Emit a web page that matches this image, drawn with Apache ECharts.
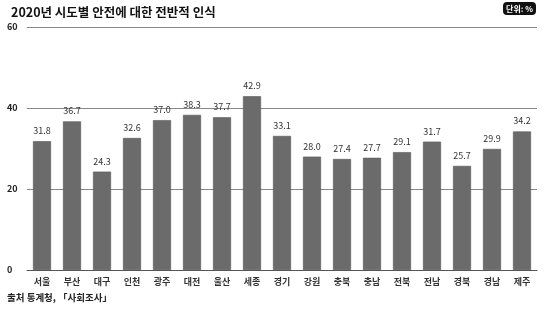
<!DOCTYPE html>
<html><head><meta charset="utf-8">
<script src="https://cdn.jsdelivr.net/npm/echarts@6/dist/echarts.min.js"></script>
<style>html,body{margin:0;padding:0;background:#fff}#c{width:550px;height:311px}</style>
</head><body><div id="c"></div>
<script>
const categories = ['서울','부산','대구','인천','광주','대전','울산','세종','경기','강원','충북','충남','전북','전남','경북','경남','제주'];
const values = [31.8,36.7,24.3,32.6,37.0,38.3,37.7,42.9,33.1,28.0,27.4,27.7,29.1,31.7,25.7,29.9,34.2];
const yTicks = [0,20,40,60];
const titleText = '2020년 시도별 안전에 대한 전반적 인식';
const unitText = '단위: %';
const sourceText = '출처 통계청, 「사회조사」';

const font = '"Noto Sans CJK KR","Noto Sans",sans-serif';
const chart = echarts.init(document.getElementById('c'), null, {renderer:'canvas'});
chart.setOption({
  backgroundColor:'#fff',
  animation:false,
  title:{text:titleText,left:6,top:1,textStyle:{fontFamily:font,fontSize:12.5,fontWeight:'bold',color:'#111'}},
  graphic:[
    {type:'rect',left:503,top:2,shape:{width:33,height:13,r:4},style:{fill:'#111'}},
    {type:'text',x:519.5,y:8.5,style:{text:unitText,fill:'#fff',font:'bold 8px '+font,align:'center',verticalAlign:'middle'}},
    {type:'text',left:7,top:293,style:{text:sourceText,fill:'#222',font:'bold 9.5px '+font}}
  ],
  grid:{left:27,right:13,top:27,bottom:41},
  xAxis:{type:'category',data:categories,
    axisLine:{lineStyle:{color:'#555',width:1}},axisTick:{show:false},
    axisLabel:{fontFamily:font,fontSize:9,fontWeight:'bold',color:'#333',margin:7}},
  yAxis:{type:'value',min:0,max:60,interval:20,
    axisLine:{show:false},axisTick:{show:false},
    splitLine:{lineStyle:{color:'#888',width:1}},
    axisLabel:{fontFamily:font,fontSize:9,fontWeight:'bold',color:'#222',align:'left',margin:20,
      formatter:v=>yTicks.includes(v)?String(v):''}},
  series:[{type:'bar',data:values,barWidth:18,
    itemStyle:{color:'#6b6b6b',borderColor:'#555',borderWidth:0.6},
    label:{show:true,position:'top',distance:6,fontFamily:font,fontSize:9,color:'#333',
      formatter:p=>p.value.toFixed(1)}}]
});
</script></body></html>
